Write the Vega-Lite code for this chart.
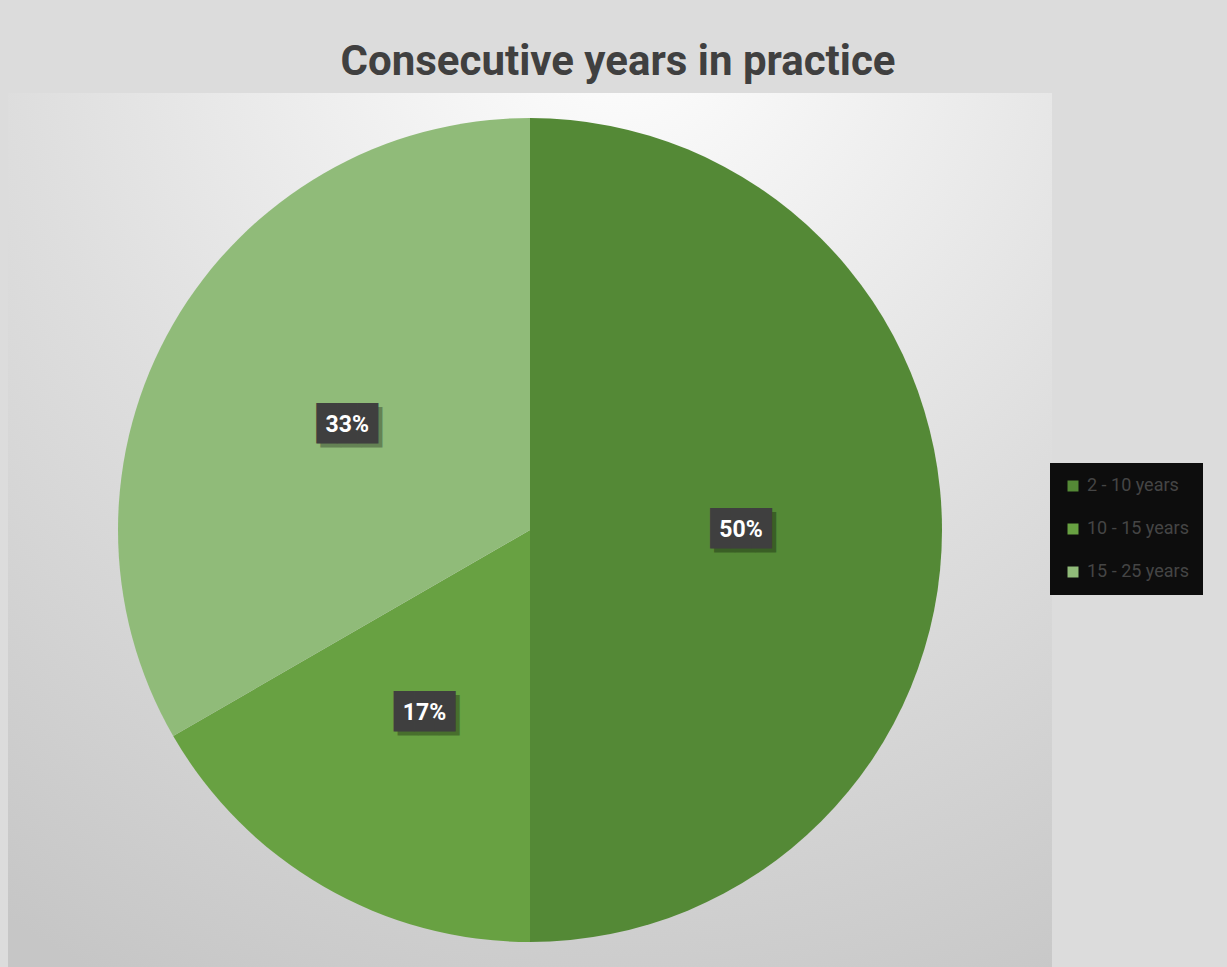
{
  "$schema": "https://vega.github.io/schema/vega-lite/v6.json",
  "width": 1044,
  "height": 874,
  "padding": {"left": 8, "top": 41, "right": 25, "bottom": 0},
  "background": "#dcdcdc",
  "title": {
    "text": "Consecutive years in practice",
    "font": "Roboto",
    "fontSize": 42,
    "fontWeight": "bold",
    "color": "#404040",
    "anchor": "middle",
    "frame": "group",
    "dx": 88,
    "offset": 9
  },
  "config": {
    "view": {"stroke": null},
    "legend": {
      "fillColor": "#0d0d0d",
      "padding": 14,
      "symbolType": "square",
      "symbolSize": 121,
      "symbolStrokeWidth": 0,
      "labelFont": "Roboto",
      "labelFontSize": 18,
      "labelColor": "#454545",
      "labelOffset": 5,
      "rowPadding": 25
    }
  },
  "layer": [
    {
      "data": {"values": [{"bg": 1}]},
      "mark": {
        "type": "rect",
        "fill": {
          "gradient": "radial",
          "x1": 0.584, "y1": 0.0, "r1": 0,
          "x2": 0.584, "y2": 0.0, "r2": 1.05,
          "stops": [
            {"offset": 0, "color": "#ffffff"},
            {"offset": 0.55, "color": "#dedede"},
            {"offset": 1, "color": "#c6c6c6"}
          ]
        }
      },
      "encoding": {}
    },
    {
      "data": {"name": "pie"},
      "layer": [
        {
          "mark": {"type": "arc", "outerRadius": 412, "stroke": null},
          "encoding": {
            "theta": {"field": "count", "type": "quantitative", "stack": true},
            "order": {"field": "idx"},
            "color": {
              "field": "range",
              "type": "nominal",
              "sort": ["2 - 10 years", "10 - 15 years", "15 - 25 years"],
              "scale": {
                "domain": ["2 - 10 years", "10 - 15 years", "15 - 25 years"],
                "range": ["#548936", "#68a142", "#90bb79"]
              },
              "legend": {"title": null, "orient": "none", "legendX": 1042, "legendY": 370}
            }
          }
        },
        {
          "mark": {"type": "text", "radius": 211, "font": "DejaVu Sans Mono", "fontSize": 34, "color": "#000000", "opacity": 0.3, "dx": 4, "dy": 4, "baseline": "middle", "align": "center"},
          "encoding": {
            "theta": {"field": "count", "type": "quantitative", "stack": true},
            "order": {"field": "idx"},
            "text": {"value": "███"}
          }
        },
        {
          "mark": {"type": "text", "radius": 211, "font": "DejaVu Sans Mono", "fontSize": 34, "color": "#3f3f3f", "baseline": "middle", "align": "center"},
          "encoding": {
            "theta": {"field": "count", "type": "quantitative", "stack": true},
            "order": {"field": "idx"},
            "text": {"value": "███"}
          }
        },
        {
          "mark": {"type": "text", "radius": 211, "font": "Roboto", "fontSize": 23, "fontWeight": "bold", "color": "#ffffff", "baseline": "middle", "align": "center"},
          "encoding": {
            "theta": {"field": "count", "type": "quantitative", "stack": true},
            "order": {"field": "idx"},
            "text": {"field": "pct"}
          }
        }
      ]
    }
  ],
  "datasets": {
    "pie": [
      {"range": "2 - 10 years", "count": 3, "pct": "50%", "idx": 1},
      {"range": "10 - 15 years", "count": 1, "pct": "17%", "idx": 2},
      {"range": "15 - 25 years", "count": 2, "pct": "33%", "idx": 3}
    ]
  }
}
